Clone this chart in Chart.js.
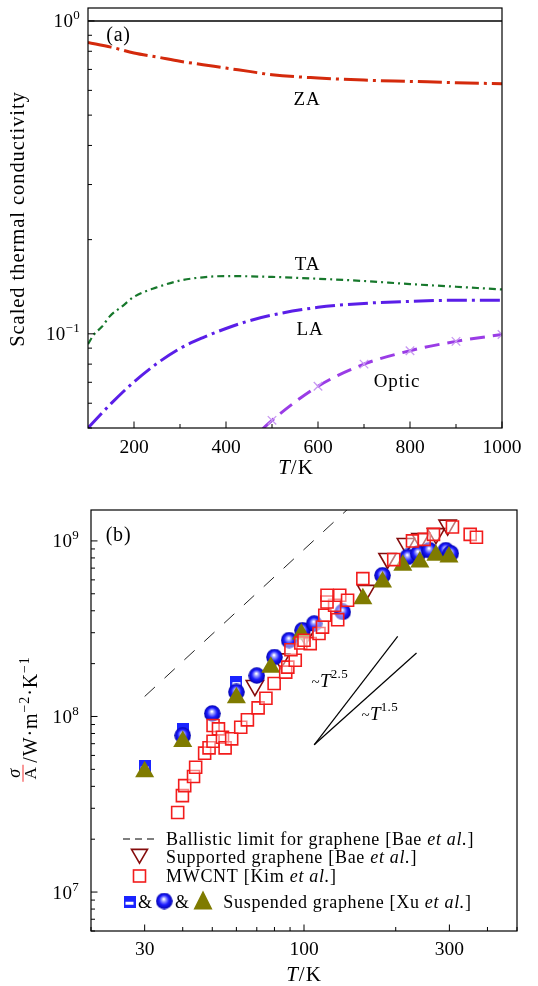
<!DOCTYPE html>
<html>
<head>
<meta charset="utf-8">
<script src="https://cdn.jsdelivr.net/npm/chart.js@4.4.0/dist/chart.umd.min.js"></script>
<style>
html,body{margin:0;padding:0;background:#fff;}
#wrap{position:relative;width:538px;height:986px;}
canvas{position:absolute;left:0;}
#ca{top:0;}
#cb{top:490px;}
</style>
</head>
<body>
<div id="wrap">
<canvas id="ca" width="538" height="480"></canvas>
<canvas id="cb" width="538" height="496"></canvas>
</div>
<script>
// ---- panel (a) : scaled conductivity per branch ----
const tA     = [100,150,200,250,300,350,400,450,500,600,700,800,900,1000];
const zaA    = [0.854,0.825,0.790,0.767,0.743,0.725,0.707,0.690,0.673,0.657,0.647,0.641,0.635,0.630];
const laA    = [0.05,0.0598,0.0702,0.0804,0.0898,0.0973,0.104,0.110,0.1148,0.1215,0.1251,0.127,0.128,0.128];
const tTA    = [100,113,130,148,175,200,250,300,350,400,500,600,700,800,900,1000];
const taA    = [0.0927,0.0995,0.1053,0.114,0.1227,0.1313,0.1408,0.148,0.1516,0.153,0.152,0.150,0.1475,0.1442,0.1414,0.1386];
const tOptic = [480,500,600,700,800,900,1000];
const optic  = [0.0497,0.0529,0.068,0.080,0.0883,0.0946,0.0995];
const tTotal = [100,1000];
const total  = [1,1];
const xTicksA = [100,200,300,400,500,600,700,800,900,1000];
const yMajorA = [0.1,1];
const yMinorA = [0.05,0.06,0.07,0.08,0.09,0.2,0.3,0.4,0.5,0.6,0.7,0.8,0.9];

// ---- panel (b) : thermal conductance ----
const ballT = [30,150],  ballS = [1.3e8,1.71e9];
const t25T  = [108,203], t25S  = [6.9e7,2.86e8];
const t15T  = [108,234], t15S  = [6.9e7,2.3e8];
const supT = [69,84,101,160,188,216,241,271,296];
const supS = [1.50e8,2.13e8,2.9e8,5.23e8,7.94e8,9.66e8,1.03e9,1.10e9,1.23e9];
const mwT = [38.5,39.9,40.6,43.4,44.1,47.2,48.8,50.3,50.3,52.4,54,55.1,57.9,62,65.2,70.7,75,79.8,87.1,88.5,
             93.6,90.6,97.6,104.8,100,112,115,117,129,126,119,119,131,139,156,197,227,248,266,307,351,368];
const mwS = [2.84e7,3.54e7,4.04e7,4.55e7,5.14e7,6.18e7,6.63e7,7.23e7,8.89e7,8.5e7,7.62e7,6.63e7,7.46e7,8.69e7,9.57e7,1.12e8,1.27e8,1.54e8,1.79e8,1.91e8,
             2.09e8,2.4e8,2.62e8,2.6e8,2.72e8,2.97e8,3.23e8,3.77e8,3.56e8,4.3e8,4.49e8,4.9e8,4.9e8,4.59e8,6.1e8,7.83e8,1.0e9,1.02e9,1.09e9,1.2e9,1.09e9,1.05e9];
const xuSqT = [30,40,60];
const xuSqS = [5.19e7,8.5e7,1.57e8];
const xuBallT = [40,50,60,70,80,89.4,98.9,108,134,181,219,237,258,292,303];
const xuBallS = [7.8e7,1.04e8,1.38e8,1.71e8,2.18e8,2.72e8,3.1e8,3.38e8,3.94e8,6.37e8,8.1e8,8.48e8,8.85e8,8.85e8,8.5e8];
const xuTriT = [30,40,60,77.8,98,156,181,211,240,271,299];
const xuTriS = [4.85e7,7.2e7,1.28e8,1.91e8,2.95e8,4.69e8,5.83e8,7.26e8,7.59e8,8.28e8,8.1e8];
const xMajorB = [30,100,300];
const xMinorB = [20,40,50,60,70,80,90,200,400,500];
const yMajorB = [1e7,1e8,1e9];
const yMinorB = [6e6,7e6,8e6,9e6,2e7,3e7,4e7,5e7,6e7,7e7,8e7,9e7,2e8,3e8,4e8,5e8,6e8,7e8,8e8,9e8];

const serif = '"Liberation Serif","DejaVu Serif",serif';
const pts = (xs, ys) => xs.map((x, i) => ({x: x, y: ys[i]}));

function font(size, italic){ return (italic ? 'italic ' : '') + size + 'px ' + serif; }

// draw a run of text pieces [text, size, italic, dy]; returns total width
function runs(ctx, parts, x, y, align, sp){
  ctx.letterSpacing = (sp || 0) + 'px';
  let w = 0;
  parts.forEach(p => { ctx.font = font(p[1], p[2]); w += ctx.measureText(p[0]).width; });
  let cx = align === 'center' ? x - w / 2 : (align === 'right' ? x - w : x);
  ctx.textAlign = 'left';
  parts.forEach(p => {
    ctx.font = font(p[1], p[2]);
    ctx.fillText(p[0], cx, y + (p[3] || 0));
    cx += ctx.measureText(p[0]).width;
  });
  ctx.letterSpacing = '0px';
  return w;
}

function pow10(v){ return Math.round(Math.log10(v)).toString().replace('-', '\u2212'); }

function frame(chart, o){
  const ctx = chart.ctx, a = chart.chartArea, x = chart.scales.x, y = chart.scales.y;
  ctx.save();
  ctx.strokeStyle = '#000';
  ctx.lineWidth = 1.2;
  ctx.strokeRect(a.left, a.top, a.right - a.left, a.bottom - a.top);
  ctx.lineWidth = 1;
  ctx.beginPath();
  o.xMajor.forEach(v => { const p = x.getPixelForValue(v); ctx.moveTo(p, a.bottom); ctx.lineTo(p, a.bottom - 6.5); });
  o.xMinor.forEach(v => { const p = x.getPixelForValue(v); ctx.moveTo(p, a.bottom); ctx.lineTo(p, a.bottom - 4); });
  o.yMajor.forEach(v => { const p = y.getPixelForValue(v); ctx.moveTo(a.left, p); ctx.lineTo(a.left + 6.5, p); });
  o.yMinor.forEach(v => { const p = y.getPixelForValue(v); ctx.moveTo(a.left, p); ctx.lineTo(a.left + 4, p); });
  ctx.stroke();
  ctx.fillStyle = '#000';
  ctx.textBaseline = 'alphabetic';
  o.yMajor.forEach(v => {
    const p = y.getPixelForValue(v);
    runs(ctx, [['10', 19, false, 0], [pow10(v), 13, false, -8]], o.yLabelRight, p + 6.5, 'right', 0.3);
  });
  ctx.restore();
}

// ---- marker images for Xu et al. ----
function ballImg(){
  const c = document.createElement('canvas'); c.width = 17; c.height = 17;
  const g = c.getContext('2d');
  const gr = g.createRadialGradient(8, 6.5, 0.5, 8.5, 8.5, 8.5);
  gr.addColorStop(0, '#ffffff');
  gr.addColorStop(0.2, '#9da0ff');
  gr.addColorStop(0.55, '#1c1cff');
  gr.addColorStop(1, '#0000a8');
  g.fillStyle = gr;
  g.beginPath(); g.arc(8.5, 8.5, 8.3, 0, Math.PI * 2); g.fill();
  return c;
}
function sqImg(){
  const c = document.createElement('canvas'); c.width = 12; c.height = 12;
  const g = c.getContext('2d');
  g.fillStyle = '#1a24ff'; g.fillRect(0, 0, 12, 12);
  g.fillStyle = '#ffffff'; g.fillRect(2, 6, 8, 3);
  return c;
}
const BALL = ballImg(), SQ = sqImg();

// ---------------- panel (a) ----------------
new Chart(document.getElementById('ca'), {
  type: 'scatter',
  data: {
    datasets: [
      {data: pts(tTotal, total), showLine: true, borderColor: '#000', borderWidth: 1.4, pointRadius: 0},
      {data: pts(tA, zaA), showLine: true, borderColor: '#d42a0c', borderWidth: 3, borderDash: [24,5,3,5], pointRadius: 0, cubicInterpolationMode: 'monotone'},
      {data: pts(tTA, taA), showLine: true, borderColor: '#17782c', borderWidth: 2.2, borderDash: [7,4,2,4], pointRadius: 0, cubicInterpolationMode: 'monotone'},
      {data: pts(tA, laA), showLine: true, borderColor: '#5a1ee8', borderWidth: 3, borderDash: [20,5,3,5], pointRadius: 0, cubicInterpolationMode: 'monotone'},
      {data: pts(tOptic, optic), showLine: true, borderColor: '#9a3ce6', borderWidth: 3, borderDash: [15,8], cubicInterpolationMode: 'monotone',
       pointStyle: 'crossRot', pointBorderColor: '#c898f2', pointBorderWidth: 1.3,
       pointRadius: c => (c.raw && c.raw.x >= 500) ? 6 : 0}
    ]
  },
  options: {
    responsive: false, animation: false,
    layout: {padding: {top: 8, right: 36, left: 0, bottom: 0}},
    plugins: {legend: {display: false}, tooltip: {enabled: false}},
    scales: {
      x: {type: 'linear', min: 100, max: 1000,
          afterBuildTicks: s => { s.ticks = xTicksA.map(v => ({value: v})); },
          afterFit: s => { s.height = 52; },
          grid: {display: false, drawTicks: false}, border: {display: false},
          ticks: {autoSkip: false, maxRotation: 0, padding: 8, color: '#000', font: {family: serif, size: 19.5},
                  callback: v => (v >= 200 && v % 200 === 0) ? v : ''}},
      y: {type: 'logarithmic', min: 0.05, max: 1.1,
          afterFit: s => { s.width = 88; },
          grid: {display: false, drawTicks: false}, border: {display: false},
          ticks: {display: false}}
    }
  },
  plugins: [{
    id: 'decorA',
    afterDatasetsDraw(chart){
      frame(chart, {xMajor: [200,400,600,800,1000], xMinor: [300,500,700,900], yMajor: yMajorA, yMinor: yMinorA, yLabelRight: 80});
      const ctx = chart.ctx;
      ctx.save();
      ctx.fillStyle = '#000';
      ctx.textBaseline = 'alphabetic';
      runs(ctx, [['(a)', 20]], 118.5, 41, 'center', 0.8);
      runs(ctx, [['ZA', 19]], 307, 105, 'center', 0.9);
      runs(ctx, [['TA', 19]], 307.5, 269.5, 'center', 0.9);
      runs(ctx, [['LA', 19]], 310, 335, 'center', 0.9);
      runs(ctx, [['Optic', 19]], 397, 387, 'center', 0.9);
      runs(ctx, [['T', 21, true], ['/K', 21]], 296, 474, 'center', 1);
      ctx.translate(24, 219);
      ctx.rotate(-Math.PI / 2);
      runs(ctx, [['Scaled thermal conductivity', 20.5]], 0, 0, 'center', 0.95);
      ctx.restore();
    }
  }]
});

// ---------------- panel (b) ----------------
new Chart(document.getElementById('cb'), {
  type: 'scatter',
  data: {
    datasets: [
      {data: pts(mwT, mwS), pointStyle: 'rect', pointRadius: 8.5, borderColor: '#f21c1c', borderWidth: 1.6, backgroundColor: 'rgba(255,255,255,0.45)'},
      {data: pts(xuTriT, xuTriS), pointStyle: 'triangle', pointRadius: 11, borderWidth: 0, backgroundColor: '#7f7b00', borderColor: '#7f7b00'},
      {data: pts(xuBallT, xuBallS), pointStyle: BALL},
      {data: pts(xuSqT, xuSqS), pointStyle: SQ},
      {data: pts(supT, supS), pointStyle: 'triangle', rotation: 180, pointRadius: 10, borderColor: '#850c0c', borderWidth: 1.6, backgroundColor: 'rgba(255,255,255,0)'},
      {data: pts(t25T, t25S), showLine: true, borderColor: '#000', borderWidth: 1.2, pointRadius: 0},
      {data: pts(t15T, t15S), showLine: true, borderColor: '#000', borderWidth: 1.2, pointRadius: 0},
      {data: pts(ballT, ballS), showLine: true, borderColor: '#222', borderWidth: 1, borderDash: [14,13], pointRadius: 0}
    ]
  },
  options: {
    responsive: false, animation: false,
    layout: {padding: {top: 20, right: 21, left: 0, bottom: 0}},
    plugins: {legend: {display: false}, tooltip: {enabled: false}},
    scales: {
      x: {type: 'logarithmic', min: 20, max: 500,
          afterBuildTicks: s => { s.ticks = xMajorB.map(v => ({value: v})); },
          afterFit: s => { s.height = 55; },
          grid: {display: false, drawTicks: false}, border: {display: false},
          ticks: {autoSkip: false, maxRotation: 0, padding: 7, color: '#000', font: {family: serif, size: 19.5},
                  callback: v => String(v)}},
      y: {type: 'logarithmic', min: 6e6, max: 1.5e9,
          afterFit: s => { s.width = 91; },
          grid: {display: false, drawTicks: false}, border: {display: false},
          ticks: {display: false}}
    }
  },
  plugins: [{
    id: 'decorB',
    afterDatasetsDraw(chart){
      frame(chart, {xMajor: xMajorB, xMinor: xMinorB, yMajor: yMajorB, yMinor: yMinorB, yLabelRight: 79});
      const ctx = chart.ctx;
      ctx.save();
      ctx.fillStyle = '#000';
      ctx.strokeStyle = '#000';
      ctx.textBaseline = 'alphabetic';
      runs(ctx, [['(b)', 20]], 118.5, 51, 'center', 0.8);
      runs(ctx, [['~', 15], ['T', 19, true], ['2.5', 13, false, -9]], 311.5, 197, 'left', 0.3);
      runs(ctx, [['~', 15], ['T', 19, true], ['1.5', 13, false, -9]], 361.5, 230, 'left', 0.3);
      runs(ctx, [['T', 21, true], ['/K', 21]], 304, 491, 'center', 1);

      // legend
      const L = 166, ls = 18, sp = 0.7;
      ctx.lineWidth = 1.2;
      ctx.setLineDash([7, 5]);
      ctx.beginPath(); ctx.moveTo(123, 349); ctx.lineTo(157, 349); ctx.stroke();
      ctx.setLineDash([]);
      runs(ctx, [['Ballistic limit for graphene [Bae ', ls], ['et al.', ls, true], [']', ls]], L, 355, 'left', sp);
      ctx.strokeStyle = '#850c0c'; ctx.lineWidth = 1.6;
      ctx.beginPath();
      ctx.moveTo(139.5 - 8, 364 - 4.6); ctx.lineTo(139.5 + 8, 364 - 4.6); ctx.lineTo(139.5, 364 + 9.2); ctx.closePath(); ctx.stroke();
      runs(ctx, [['Supported graphene [Bae ', ls], ['et al.', ls, true], [']', ls]], L, 373, 'left', sp);
      ctx.strokeStyle = '#f21c1c';
      ctx.strokeRect(133.5, 380, 12, 12);
      runs(ctx, [['MWCNT [Kim ', ls], ['et al.', ls, true], [']', ls]], L, 391.7, 'left', sp);
      ctx.drawImage(SQ, 123.5, 405.7);
      runs(ctx, [['&', ls]], 145, 418, 'center');
      ctx.drawImage(BALL, 155.7, 402.5);
      runs(ctx, [['&', ls]], 182, 418, 'center');
      ctx.fillStyle = '#7f7b00';
      ctx.beginPath();
      ctx.moveTo(203, 400.5); ctx.lineTo(203 + 9.5, 419.5); ctx.lineTo(203 - 9.5, 419.5); ctx.closePath(); ctx.fill();
      ctx.fillStyle = '#000';
      runs(ctx, [['Suspended graphene [Xu ', ls], ['et al.', ls, true], [']', ls]], 223.3, 418, 'left', sp);

      // y axis title, rotated
      ctx.translate(37, 230);
      ctx.rotate(-Math.PI / 2);
      const rest = [['/W\u00b7m', 20], ['\u22122', 14, false, -8.5], ['\u00b7K', 20], ['\u22121', 14, false, -8.5]];
      ctx.letterSpacing = '0.9px';
      let rw = 0;
      rest.forEach(p => { ctx.font = font(p[1]); rw += ctx.measureText(p[0]).width; });
      ctx.letterSpacing = '0px';
      const fw = 19, start = -(fw + rw) / 2;
      runs(ctx, [['\u03c3', 18, true]], start + fw / 2, -17.5, 'center');
      runs(ctx, [['A', 17]], start + fw / 2, -1, 'center');
      ctx.lineWidth = 0.9;
      ctx.beginPath(); ctx.moveTo(start + 1, -14); ctx.lineTo(start + fw - 1, -14); ctx.stroke();
      runs(ctx, rest, start + fw + 1, 0, 'left', 0.9);
      ctx.restore();
    }
  }]
});
</script>
</body>
</html>
